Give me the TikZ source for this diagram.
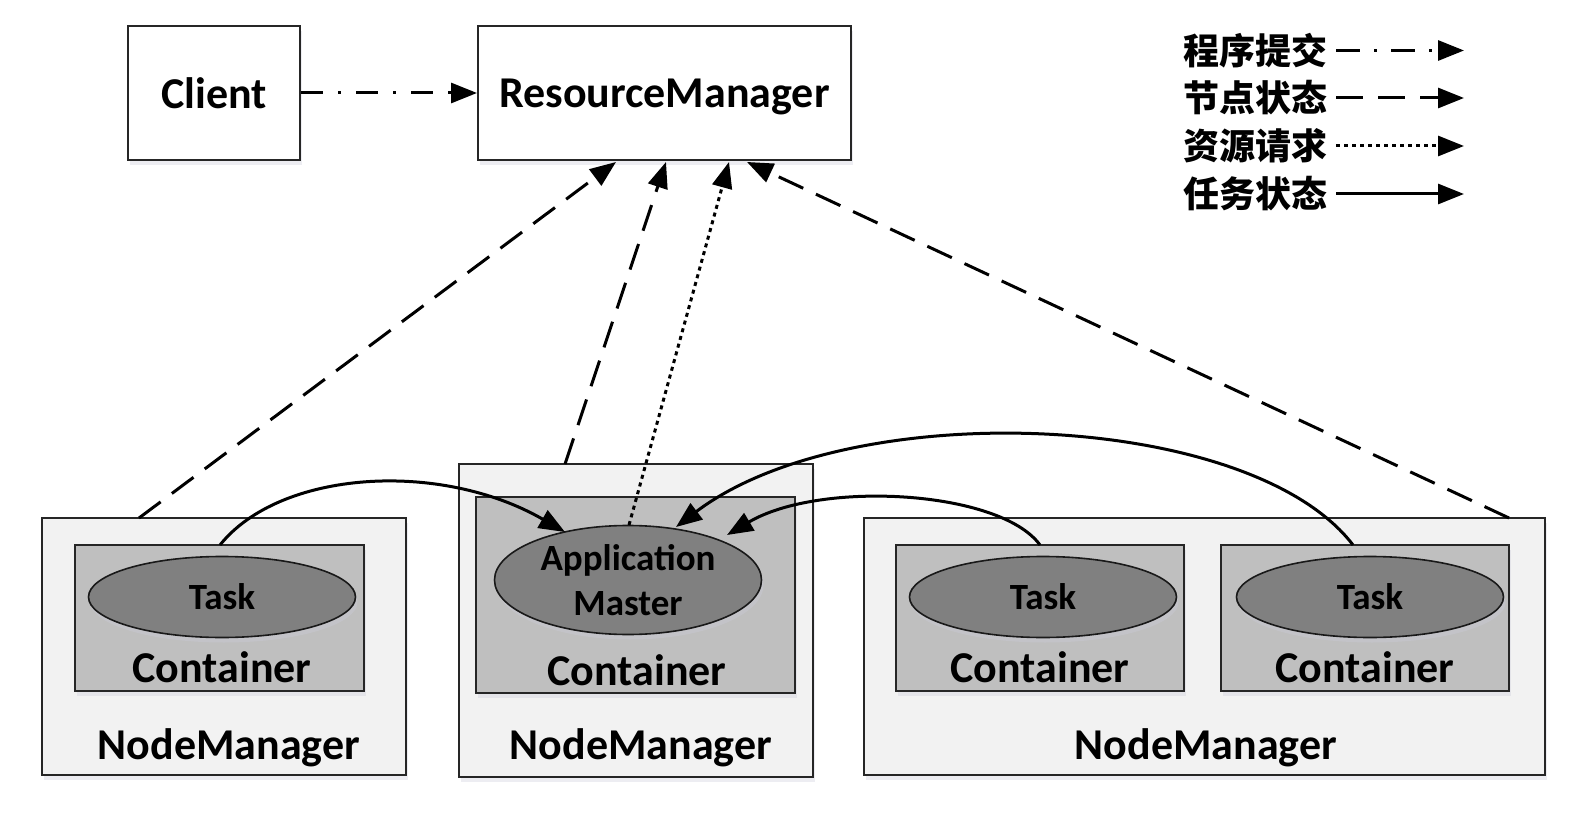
\documentclass[tikz,border=0pt]{standalone}
\usepackage{fontspec}
\setmainfont{Carlito}
\newfontfamily\cjk{Noto Sans CJK SC}
\usetikzlibrary{arrows.meta,shapes.geometric,shadows}
\begin{document}
\begin{tikzpicture}[x=1pt,y=-1pt,
  shad/.style={drop shadow={shadow xshift=2pt,shadow yshift=-5pt,fill=blue!30!black!20,opacity=0.35}},
  topbox/.style={draw=black!85,line width=2pt,fill=white,shad,font=\fontsize{44}{50}\selectfont\bfseries,inner sep=0pt,text depth=0pt},
  nmbox/.style={draw=black!85,line width=2pt,fill=black!5,shad,inner sep=0pt},
  ctbox/.style={draw=black!85,line width=2pt,fill=black!25,shad,inner sep=0pt},
  task/.style={ellipse,draw=black!90,line width=1.6pt,fill=black!50,shad,inner sep=0pt,font=\fontsize{37}{40}\selectfont\bfseries},
  lbl/.style={font=\fontsize{44}{50}\selectfont\bfseries,inner sep=0pt},
  leg/.style={font=\fontsize{36}{40}\selectfont\cjk\bfseries,inner sep=0pt,anchor=east},
  arr/.style={line width=3pt,-{Triangle[length=26pt,width=20pt]}},
  dd/.style={arr,dash pattern=on 22pt off 15pt on 3pt off 15pt},
  ds/.style={arr,dash pattern=on 27pt off 14pt},
  dt/.style={arr,dash pattern=on 4pt off 4pt},
  so/.style={arr}
]
\useasboundingbox (0,0) rectangle (1583,813);
\fill[white] (0,0) rectangle (1583,813);

% top boxes
\node[topbox,minimum width=172pt,minimum height=134pt] (client) at (214,93) {Client};
\node[topbox,minimum width=373pt,minimum height=134pt] (rm) at (664.5,93) {ResourceManager};

% NodeManagers
\node[nmbox,minimum width=364pt,minimum height=257pt] (nm1) at (224,646.5) {};
\node[nmbox,minimum width=354pt,minimum height=313pt] (nm2) at (636,620.5) {};
\node[nmbox,minimum width=681pt,minimum height=257pt] (nm3) at (1204.5,646.5) {};

% Containers
\node[ctbox,minimum width=289pt,minimum height=146pt] (c1) at (219,618) {};
\node[ctbox,minimum width=319pt,minimum height=196pt] (c2) at (635,594.5) {};
\node[ctbox,minimum width=288pt,minimum height=146pt] (c3) at (1039.5,618) {};
\node[ctbox,minimum width=288pt,minimum height=146pt] (c4) at (1364.5,618) {};

% Tasks
\node[task,minimum width=267pt,minimum height=81pt] (t1) at (222,597) {Task};
\node[task,minimum width=267pt,minimum height=109pt,align=center,font=\fontsize{37}{45}\selectfont\bfseries] (am) at (628,580) {Application\\Master};
\node[task,minimum width=267pt,minimum height=81pt] (t3) at (1043,597) {Task};
\node[task,minimum width=267pt,minimum height=81pt] (t4) at (1370,597) {Task};

% labels
\node[lbl] (lc1) at (222,667) {Container};
\node[lbl] (lc2) at (637,670) {Container};
\node[lbl] (lc3) at (1040,667) {Container};
\node[lbl] (lc4) at (1365,667) {Container};
\node[lbl] (ln1) at (229,748) {NodeManager};
\node[lbl] (ln2) at (641,748) {NodeManager};
\node[lbl] (ln3) at (1206,748) {NodeManager};

% arrow end coordinates
\coordinate (s1) at (139,518);
\coordinate (e1) at (616,162);
\coordinate (s2) at (565,464);
\coordinate (e2) at (666,162);
\coordinate (s3) at (629,525);
\coordinate (e3) at (729,162);
\coordinate (s4) at (1509,518);
\coordinate (e4) at (747,162);

\draw[dd] (client.east) -- (rm.west);
\draw[ds] (s1) -- (e1);
\draw[ds] (s2) -- (e2);
\draw[dt] (s3) -- (e3);
\draw[ds] (s4) -- (e4);

% task curves
\coordinate (a1s) at (220,545);
\coordinate (a1e) at (565,532);
\coordinate (a4s) at (1353,545);
\coordinate (a4e) at (676,527);
\coordinate (a3s) at (1040,545);
\coordinate (a3e) at (727,535);
\draw[so] (a1s) .. controls (280,470) and (440,460) .. (a1e);
\draw[so] (a4s) .. controls (1250,410) and (850,395) .. (a4e);
\draw[so] (a3s) .. controls (1000,490) and (820,480) .. (a3e);

% legend
\node[leg] (g1) at (1328,50.5) {程序提交};
\node[leg] (g2) at (1328,98) {节点状态};
\node[leg] (g3) at (1328,146) {资源请求};
\node[leg] (g4) at (1328,194) {任务状态};
\coordinate (ge1) at (1464,50.5);
\coordinate (ge2) at (1464,98);
\coordinate (ge3) at (1464,146);
\coordinate (ge4) at (1464,194);
\draw[dd,dash pattern=on 24pt off 14pt on 3pt off 14pt] ([xshift=8pt]g1.east) -- (ge1);
\draw[ds,dash pattern=on 27pt off 15pt] ([xshift=8pt]g2.east) -- (ge2);
\draw[dt] ([xshift=8pt]g3.east) -- (ge3);
\draw[so] ([xshift=8pt]g4.east) -- (ge4);
\end{tikzpicture}
\end{document}
